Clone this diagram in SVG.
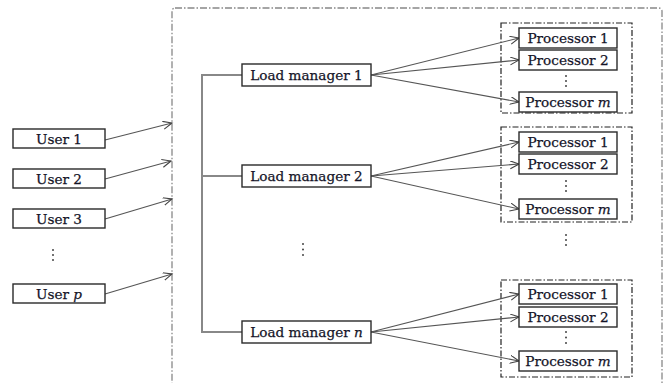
<svg xmlns="http://www.w3.org/2000/svg" width="671" height="383" viewBox="0 0 671 383">
<defs>
<marker id="arr" markerUnits="userSpaceOnUse" markerWidth="12" markerHeight="10" refX="9" refY="4" orient="auto">
<path d="M0,0 L9,4 L0,8" fill="none" stroke="#444" stroke-width="1.1"/>
</marker>
<style>
.box{fill:#fff;stroke:#2a2a2a;stroke-width:1.4}
.t{font-family:"DejaVu Serif","Liberation Serif",serif;font-size:13.6px;fill:#141428;stroke:#141428;stroke-width:0.25;text-anchor:middle;dominant-baseline:central}
.i{font-style:italic}
.c{fill:none;stroke:#555;stroke-width:1.1}
.bus{fill:none;stroke:#888;stroke-width:2}
.outer{fill:none;stroke:#888;stroke-width:1.3;stroke-dasharray:7,2,1.5,2}
.grp{fill:none;stroke:#222;stroke-width:1.2;stroke-dasharray:6,2,1.5,2}
.dot{fill:#444}
</style>
</defs>
<rect class="outer" x="172" y="8" width="490" height="400" rx="3"/>
<g id="groups">
<rect class="grp" x="501" y="23" width="131" height="90"/>
<rect class="grp" x="501" y="127" width="131" height="95"/>
<rect class="grp" x="501" y="280" width="131" height="97"/>
</g>
<g id="connectors">
<path class="bus" d="M242,75 H202 V332 H242 M202,176 H242"/>
<line class="c" x1="105" y1="140" x2="172" y2="123" marker-end="url(#arr)"/>
<line class="c" x1="105" y1="179" x2="171" y2="161" marker-end="url(#arr)"/>
<line class="c" x1="105" y1="219" x2="172" y2="199" marker-end="url(#arr)"/>
<line class="c" x1="105" y1="294" x2="172" y2="274" marker-end="url(#arr)"/>
<line class="c" x1="371" y1="75" x2="519" y2="38" marker-end="url(#arr)"/>
<line class="c" x1="371" y1="75" x2="519" y2="60" marker-end="url(#arr)"/>
<line class="c" x1="371" y1="75" x2="519" y2="102" marker-end="url(#arr)"/>
<line class="c" x1="371" y1="176" x2="519" y2="142" marker-end="url(#arr)"/>
<line class="c" x1="371" y1="176" x2="519" y2="164" marker-end="url(#arr)"/>
<line class="c" x1="371" y1="176" x2="519" y2="209" marker-end="url(#arr)"/>
<line class="c" x1="371" y1="332" x2="519" y2="294" marker-end="url(#arr)"/>
<line class="c" x1="371" y1="332" x2="519" y2="317" marker-end="url(#arr)"/>
<line class="c" x1="371" y1="332" x2="519" y2="361" marker-end="url(#arr)"/>
</g>
<g id="user1"><rect class="box" x="13" y="129" width="92" height="19"/><text class="t" x="59" y="138.5">User 1</text></g>
<g id="user2"><rect class="box" x="13" y="169" width="92" height="19"/><text class="t" x="59" y="178.5">User 2</text></g>
<g id="user3"><rect class="box" x="13" y="209" width="92" height="19"/><text class="t" x="59" y="218.5">User 3</text></g>
<g id="userp"><rect class="box" x="13" y="284" width="92" height="19"/><text class="t" x="59" y="293.5">User <tspan class="i">p</tspan></text></g>
<g id="lm1"><rect class="box" x="242" y="64" width="129" height="22"/><text class="t" x="306.5" y="75">Load manager 1</text></g>
<g id="lm2"><rect class="box" x="242" y="165" width="129" height="22"/><text class="t" x="306.5" y="176">Load manager 2</text></g>
<g id="lmn"><rect class="box" x="242" y="321" width="129" height="22"/><text class="t" x="306.5" y="332">Load manager <tspan class="i">n</tspan></text></g>
<g id="g1p1"><rect class="box" x="519" y="28" width="98" height="20"/><text class="t" x="568" y="38">Processor 1</text></g>
<g id="g1p2"><rect class="box" x="519" y="50" width="98" height="20"/><text class="t" x="568" y="60">Processor 2</text></g>
<g id="g1pm"><rect class="box" x="519" y="92" width="98" height="20"/><text class="t" x="568" y="102">Processor <tspan class="i">m</tspan></text></g>
<g id="g2p1"><rect class="box" x="519" y="132" width="98" height="20"/><text class="t" x="568" y="142">Processor 1</text></g>
<g id="g2p2"><rect class="box" x="519" y="154" width="98" height="20"/><text class="t" x="568" y="164">Processor 2</text></g>
<g id="g2pm"><rect class="box" x="519" y="199" width="98" height="20"/><text class="t" x="568" y="209">Processor <tspan class="i">m</tspan></text></g>
<g id="g3p1"><rect class="box" x="519" y="284" width="98" height="20"/><text class="t" x="568" y="294">Processor 1</text></g>
<g id="g3p2"><rect class="box" x="519" y="307" width="98" height="20"/><text class="t" x="568" y="317">Processor 2</text></g>
<g id="g3pm"><rect class="box" x="519" y="351" width="98" height="20"/><text class="t" x="568" y="361">Processor <tspan class="i">m</tspan></text></g>
<g id="ellipses">
<circle class="dot" cx="53" cy="250" r="1"/><circle class="dot" cx="53" cy="255" r="1"/><circle class="dot" cx="53" cy="260" r="1"/>
<circle class="dot" cx="303" cy="244" r="1"/><circle class="dot" cx="303" cy="249.5" r="1"/><circle class="dot" cx="303" cy="255" r="1"/>
<circle class="dot" cx="566" cy="76" r="1"/><circle class="dot" cx="566" cy="81" r="1"/><circle class="dot" cx="566" cy="86" r="1"/>
<circle class="dot" cx="566" cy="181" r="1"/><circle class="dot" cx="566" cy="186" r="1"/><circle class="dot" cx="566" cy="191" r="1"/>
<circle class="dot" cx="566" cy="235" r="1"/><circle class="dot" cx="566" cy="240" r="1"/><circle class="dot" cx="566" cy="245" r="1"/>
<circle class="dot" cx="566" cy="332" r="1"/><circle class="dot" cx="566" cy="337.5" r="1"/><circle class="dot" cx="566" cy="343" r="1"/>
</g>
</svg>
